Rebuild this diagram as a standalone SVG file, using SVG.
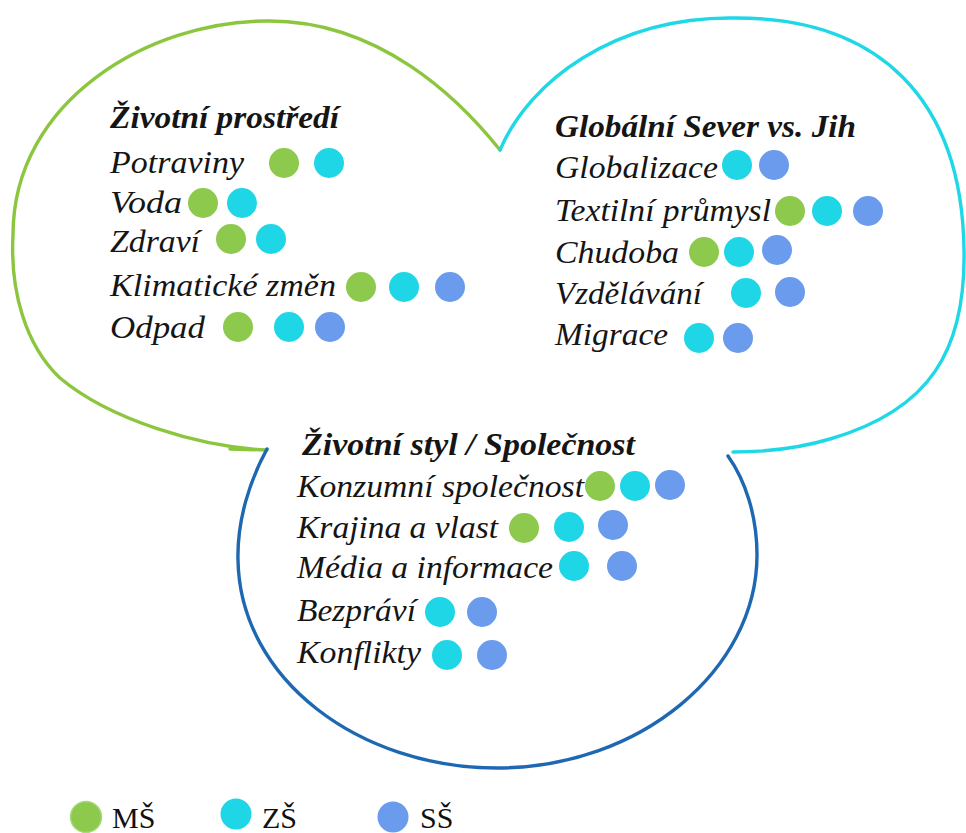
<svg xmlns="http://www.w3.org/2000/svg" width="966" height="833" viewBox="0 0 966 833">
<style>
.bg{fill:#ffffff}
.outline{fill:none;stroke-width:3.4;stroke-linecap:round;stroke-linejoin:round}
.og{stroke:#8cc63f}
.oc{stroke:#1fd8e6}
.ob{stroke:#1e68b2}
.t{font-style:italic;font-size:32px;fill:#151515}
.h{font-weight:bold;font-size:31px}
.lg{font-size:30px;fill:#111}
.dg{fill:#8cc94c}
.dc{fill:#1fd6e7}
.db{fill:#6a9bec}
</style>
<rect class="bg" x="0" y="0" width="966" height="833"/>

<g id="zivotni-prostredi" font-family="Liberation Serif, Times New Roman, serif">
  <path class="outline og" d="M 230,449 L 267,450 M 267,450 C 200,447 110,420 60,378 C 25,345 10,290 13,235 C 13,100 150,21 267,21 C 380,20 460,100 500,150"/>
  <text class="t h" x="110" y="128" textLength="229" lengthAdjust="spacingAndGlyphs">Životní prostředí</text>
  <text class="t" x="110" y="173" textLength="134" lengthAdjust="spacingAndGlyphs">Potraviny</text>
  <circle class="dg" cx="284" cy="163" r="15"/><circle class="dc" cx="329" cy="163" r="15"/>
  <text class="t" x="110" y="213" textLength="72" lengthAdjust="spacingAndGlyphs">Voda</text>
  <circle class="dg" cx="203" cy="203" r="15"/><circle class="dc" cx="242" cy="203" r="15"/>
  <text class="t" x="110" y="252" textLength="90" lengthAdjust="spacingAndGlyphs">Zdraví</text>
  <circle class="dg" cx="231" cy="239" r="15"/><circle class="dc" cx="271" cy="239" r="15"/>
  <text class="t" x="110" y="296" textLength="226" lengthAdjust="spacingAndGlyphs">Klimatické změn</text>
  <circle class="dg" cx="361" cy="287" r="15"/><circle class="dc" cx="404" cy="287" r="15"/><circle class="db" cx="450" cy="287" r="15"/>
  <text class="t" x="110" y="338" textLength="95" lengthAdjust="spacingAndGlyphs">Odpad</text>
  <circle class="dg" cx="238" cy="327" r="15"/><circle class="dc" cx="289" cy="327" r="15"/><circle class="db" cx="330" cy="327" r="15"/>
</g>

<g id="globalni-sever-jih" font-family="Liberation Serif, Times New Roman, serif">
  <path class="outline oc" d="M 500,150 C 530,80 615,18 730,18 C 880,16 962,100 964,250 C 966,350 930,410 830,439 C 800,448 765,452 733,452"/>
  <text class="t h" x="555" y="137" textLength="301" lengthAdjust="spacingAndGlyphs">Globální Sever vs. Jih</text>
  <text class="t" x="555" y="178" textLength="163" lengthAdjust="spacingAndGlyphs">Globalizace</text>
  <circle class="dc" cx="737" cy="165" r="15"/><circle class="db" cx="774" cy="165" r="15"/>
  <text class="t" x="555" y="221" textLength="216" lengthAdjust="spacingAndGlyphs">Textilní průmysl</text>
  <circle class="dg" cx="790" cy="211" r="15"/><circle class="dc" cx="827" cy="211" r="15"/><circle class="db" cx="868" cy="211" r="15"/>
  <text class="t" x="555" y="263" textLength="124" lengthAdjust="spacingAndGlyphs">Chudoba</text>
  <circle class="dg" cx="704" cy="252" r="15"/><circle class="dc" cx="739" cy="252" r="15"/><circle class="db" cx="777" cy="250" r="15"/>
  <text class="t" x="555" y="304" textLength="147" lengthAdjust="spacingAndGlyphs">Vzdělávání</text>
  <circle class="dc" cx="746" cy="293" r="15"/><circle class="db" cx="790" cy="292" r="15"/>
  <text class="t" x="555" y="345" textLength="113" lengthAdjust="spacingAndGlyphs">Migrace</text>
  <circle class="dc" cx="699" cy="338" r="15"/><circle class="db" cx="738" cy="338" r="15"/>
</g>

<g id="zivotni-styl-spolecnost" font-family="Liberation Serif, Times New Roman, serif">
  <path class="outline ob" d="M 267,449 C 250,480 237,520 238,560 C 240,680 360,768 497,768 C 640,768 757,670 757,555 C 757,515 745,480 728,456"/>
  <text class="t h" x="302" y="455" textLength="333" lengthAdjust="spacingAndGlyphs">Životní styl / Společnost</text>
  <text class="t" x="297" y="497" textLength="287" lengthAdjust="spacingAndGlyphs">Konzumní společnost</text>
  <circle class="dg" cx="600" cy="486" r="15"/><circle class="dc" cx="635" cy="486" r="15"/><circle class="db" cx="670" cy="485" r="15"/>
  <text class="t" x="297" y="538" textLength="201" lengthAdjust="spacingAndGlyphs">Krajina a vlast</text>
  <circle class="dg" cx="524" cy="528" r="15"/><circle class="dc" cx="569" cy="527" r="15"/><circle class="db" cx="613" cy="525" r="15"/>
  <text class="t" x="297" y="578" textLength="256" lengthAdjust="spacingAndGlyphs">Média a informace</text>
  <circle class="dc" cx="574" cy="566" r="15"/><circle class="db" cx="622" cy="566" r="15"/>
  <text class="t" x="297" y="621" textLength="119" lengthAdjust="spacingAndGlyphs">Bezpráví</text>
  <circle class="dc" cx="440" cy="612" r="15"/><circle class="db" cx="482" cy="612" r="15"/>
  <text class="t" x="297" y="663" textLength="124" lengthAdjust="spacingAndGlyphs">Konflikty</text>
  <circle class="dc" cx="447" cy="655" r="15"/><circle class="db" cx="492" cy="655" r="15"/>
</g>

<g id="legend" font-family="Liberation Serif, Times New Roman, serif">
  <circle class="dg" cx="86" cy="817" r="15.5" stroke="#a9d97a" stroke-width="1.5"/>
  <text class="lg" x="112" y="828">MŠ</text>
  <circle class="dc" cx="236" cy="814" r="15.5"/>
  <text class="lg" x="262" y="828">ZŠ</text>
  <circle class="db" cx="393" cy="817" r="15.5"/>
  <text class="lg" x="420" y="828">SŠ</text>
</g>
</svg>
